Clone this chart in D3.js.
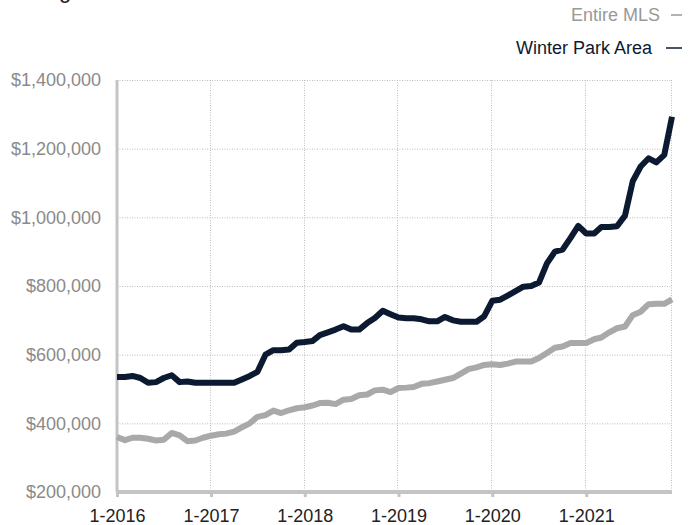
<!DOCTYPE html>
<html>
<head>
<meta charset="utf-8">
<script src="https://cdn.jsdelivr.net/npm/d3@7"></script>
<style>
    body { margin: 0; background: #fff; }
    svg { display: block; font-family: 'Liberation Sans', Arial, sans-serif; }
</style>
</head>
<body>
<div id="price-trend"></div>
<script>
// monthly, 1-2016 through 12-2021
var startMonth = '2016-01';
var seriesNames = ['Entire MLS', 'Winter Park Area'];
var yTicks = [200000, 400000, 600000, 800000, 1000000, 1200000, 1400000];
var xTickYears = [2016, 2017, 2018, 2019, 2020, 2021];

var entireMLS = [
    360, 351, 358, 358, 355, 350, 352, 372, 365, 348, 350, 358,
    364, 368, 370, 376, 388, 400, 419, 424, 437, 430, 438, 444,
    447, 452, 459, 460, 456, 469, 471, 482, 484, 496, 498, 491,
    503, 504, 506, 515, 517, 522, 527, 532, 545, 558, 563, 570,
    572, 570, 574, 580, 580, 580, 590, 605, 620, 624, 634, 634,
    634, 645, 650, 665, 677, 682, 715, 725, 747, 748, 748, 761
];
var winterPark = [
    535, 535, 538, 532, 518, 520, 532, 540, 520, 522, 518, 518,
    518, 518, 518, 518, 528, 538, 550, 600, 613, 613, 615, 635,
    637, 640, 657, 665, 673, 683, 673, 673, 692, 707, 728, 718,
    708, 706, 706, 703, 697, 697, 710, 700, 696, 696, 696, 712,
    757, 760, 772, 785, 798, 800, 810, 866, 900, 906, 940, 975,
    953, 953, 972, 972, 974, 1005, 1105, 1148, 1172, 1160, 1182, 1293
];

makeTrend();

function makeTrend() {
    var fullwidth = 689;
    var fullheight = 525;
    var margin = { top: 80, right: 17, bottom: 33, left: 117 };
    var width = fullwidth - margin.left - margin.right;
    var height = fullheight - margin.top - margin.bottom;

    var parseMonth = d3.timeParse('%Y-%m');
    var t0 = parseMonth(startMonth);
    function toRows(vals) {
        return vals.map(function(v, i) {
            return { date: d3.timeMonth.offset(t0, i), value: v * 1000 };
        });
    }
    var mls = toRows(entireMLS);
    var wp = toRows(winterPark);

    var svg = d3.select('#price-trend')
        .append('svg')
        .attr('width', fullwidth)
        .attr('height', fullheight);

    // title, cut off at the top of the frame
    svg.append('text')
        .attr('x', 2)
        .attr('y', -2)
        .style('font-size', '22px')
        .style('fill', '#222')
        .text('Average Sales Price');

    var g = svg.append('g')
        .attr('transform', 'translate(' + margin.left + ',' + margin.top + ')');

    var x = d3.scaleTime()
        .domain([t0, d3.timeMonth.offset(t0, entireMLS.length - 1)])
        .range([0, width]);
    var y = d3.scaleLinear()
        .domain([yTicks[0], yTicks[yTicks.length - 1]])
        .range([height, 0]);

    var yearDates = xTickYears.map(function(yr) { return new Date(yr, 0, 1); });

    ///////////// grid
    g.append('g')
        .selectAll('line')
        .data(yTicks.slice(1))
        .enter().append('line')
        .attr('x1', 0).attr('x2', width)
        .attr('y1', function(d) { return y(d) + 0.5; })
        .attr('y2', function(d) { return y(d) + 0.5; })
        .attr('stroke', '#bdbdbd')
        .attr('stroke-dasharray', '1,1.5');

    g.append('g')
        .selectAll('line')
        .data(yearDates.slice(1).concat([x.domain()[1]]))
        .enter().append('line')
        .attr('x1', function(d) { return Math.round(x(d)) - 0.5; })
        .attr('x2', function(d) { return Math.round(x(d)) - 0.5; })
        .attr('y1', 0).attr('y2', height)
        .attr('stroke', '#bdbdbd')
        .attr('stroke-dasharray', '1,1.5');

    ///////////// axes
    var yAxis = d3.axisLeft(y)
        .tickValues(yTicks)
        .tickSize(0)
        .tickPadding(16)
        .tickFormat(d3.format('$,'));
    var ya = g.append('g').call(yAxis);
    ya.select('.domain').remove();
    ya.selectAll('text')
        .style('font-size', '18px')
        .style('fill', '#8a8a8a');

    var xAxis = d3.axisBottom(x)
        .tickValues(yearDates)
        .tickSize(5)
        .tickPadding(12)
        .tickFormat(d3.timeFormat('%-m-%Y'));
    var xa = g.append('g')
        .attr('transform', 'translate(0,' + height + ')')
        .call(xAxis);
    xa.select('.domain').remove();
    xa.selectAll('line').attr('stroke', '#c4c4c4').attr('stroke-width', 3);
    xa.selectAll('text')
        .style('font-size', '18px')
        .style('fill', '#222');

    g.append('line')
        .attr('x1', 0).attr('x2', width)
        .attr('y1', height).attr('y2', height)
        .attr('stroke', '#c4c4c4')
        .attr('stroke-width', 4);
    g.append('line')
        .attr('x1', 0).attr('x2', 0)
        .attr('y1', 0).attr('y2', height)
        .attr('stroke', '#c4c4c4')
        .attr('stroke-width', 3);

    ///////////// lines
    var line = d3.line()
        .x(function(d) { return x(d.date); })
        .y(function(d) { return y(d.value); });

    g.append('path')
        .datum(mls)
        .attr('d', line)
        .attr('fill', 'none')
        .attr('stroke', '#a9a9a9')
        .attr('stroke-width', 6)
        .attr('stroke-linejoin', 'round');

    g.append('path')
        .datum(wp)
        .attr('d', line)
        .attr('fill', 'none')
        .attr('stroke', '#0b1a30')
        .attr('stroke-width', 6)
        .attr('stroke-linejoin', 'round');

    ///////////// legend
    var legendColors = ['#999999', '#0b1a30'];
    var legendGap = [22, 30];
    var legend = svg.append('g')
        .selectAll('g')
        .data(seriesNames)
        .enter().append('g')
        .attr('transform', function(d, i) { return 'translate(682,' + (15 + i * 33) + ')'; });
    legend.append('text')
        .attr('x', function(d, i) { return -legendGap[i]; })
        .attr('dy', '0.35em')
        .attr('text-anchor', 'end')
        .style('font-size', '18px')
        .style('fill', function(d, i) { return legendColors[i]; })
        .text(function(d) { return d; });
    legend.append('line')
        .attr('x1', function(d, i) { return i ? -16 : -11; })
        .attr('x2', 0)
        .attr('stroke', function(d, i) { return legendColors[i]; })
        .attr('stroke-width', 1.5);
}
</script>
</body>
</html>
